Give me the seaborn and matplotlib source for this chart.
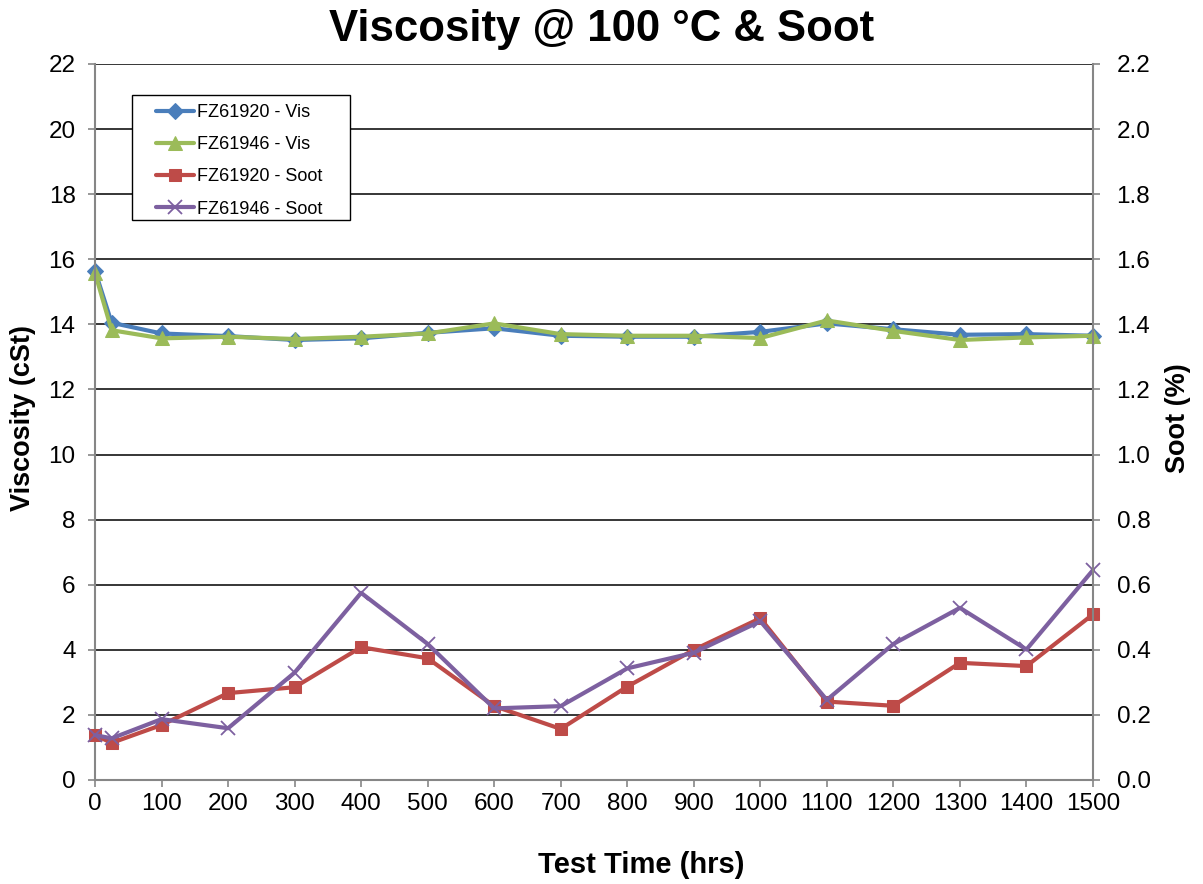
import matplotlib
matplotlib.use("Agg")
import matplotlib.pyplot as plt
import seaborn as sns
from matplotlib.patches import Rectangle
from matplotlib.ticker import MultipleLocator, FormatStrFormatter

hours = [0, 25, 100, 200, 300, 400, 500, 600, 700, 800, 900, 1000, 1100, 1200, 1300, 1400, 1500]
vis_fz61920 = [15.65, 14.05, 13.72, 13.64, 13.52, 13.57, 13.74, 13.88, 13.65, 13.62, 13.62, 13.77, 14.03, 13.85, 13.68, 13.70, 13.65]
vis_fz61946 = [15.58, 13.82, 13.57, 13.62, 13.55, 13.62, 13.72, 14.03, 13.70, 13.65, 13.65, 13.58, 14.12, 13.80, 13.52, 13.60, 13.65]
soot_fz61920 = [0.138, 0.114, 0.169, 0.267, 0.285, 0.408, 0.374, 0.227, 0.157, 0.287, 0.400, 0.497, 0.241, 0.228, 0.360, 0.350, 0.509]
soot_fz61946 = [0.138, 0.128, 0.187, 0.159, 0.330, 0.575, 0.418, 0.220, 0.227, 0.343, 0.391, 0.488, 0.246, 0.418, 0.529, 0.401, 0.645]

sns.set_theme(style="white")
plt.rcParams['font.family'] = ['Liberation Sans', 'DejaVu Sans']
plt.rcParams['text.color'] = 'black'
plt.rcParams['axes.labelcolor'] = 'black'

fig = plt.figure(figsize=(12.03, 8.84), dpi=100)
ax = fig.add_axes([95/1203, 1-780/884, (1093-95)/1203, (780-64)/884])
ax2 = ax.twinx()

lw = 3.0
sns.lineplot(x=hours, y=vis_fz61920, ax=ax, color="#4A7EBB", marker="D", markersize=8,
             markeredgecolor="#4A7EBB", linewidth=lw, label="FZ61920 - Vis", legend=False)
sns.lineplot(x=hours, y=vis_fz61946, ax=ax, color="#9BBB59", marker="^", markersize=10,
             markeredgecolor="#9BBB59", linewidth=lw, label="FZ61946 - Vis", legend=False)
sns.lineplot(x=hours, y=soot_fz61920, ax=ax2, color="#BE4B48", marker="s", markersize=9,
             markeredgecolor="#BE4B48", linewidth=lw, label="FZ61920 - Soot", legend=False)
sns.lineplot(x=hours, y=soot_fz61946, ax=ax2, color="#7D60A0", marker="x", markersize=10,
             markeredgewidth=1.3, markeredgecolor="#7D60A0", linewidth=lw, label="FZ61946 - Soot", legend=False)

for a in (ax, ax2):
    for ln in a.lines:
        ln.set_clip_on(False)

ax.set_xlim(0, 1500)
ax.set_ylim(0, 22)
ax2.set_ylim(0, 2.2)
ax.xaxis.set_major_locator(MultipleLocator(100))
ax.yaxis.set_major_locator(MultipleLocator(2))
ax2.yaxis.set_major_locator(MultipleLocator(0.2))
ax2.yaxis.set_major_formatter(FormatStrFormatter("%.1f"))

ax.grid(axis="y", color="black", linewidth=1.1)
ax.grid(axis="x", visible=False)
ax2.grid(False)
ax.set_axisbelow(True)

for a in (ax, ax2):
    for s in a.spines.values():
        s.set_visible(False)
ax.spines["left"].set_visible(True)
ax.spines["bottom"].set_visible(True)
ax2.spines["right"].set_visible(True)
for s in (ax.spines["left"], ax.spines["bottom"], ax2.spines["right"]):
    s.set_color("#868686")
    s.set_linewidth(1.5)

ax.tick_params(axis="x", direction="out", length=5, width=1.2, color="#868686",
               labelsize=17.5, labelcolor="black", bottom=True, pad=4)
ax.tick_params(axis="y", direction="out", length=5, width=1.2, color="#868686",
               labelsize=17.5, labelcolor="black", left=True, pad=9)
ax2.tick_params(axis="y", direction="out", length=5, width=1.2, color="#868686",
                labelsize=17.5, labelcolor="black", right=True, pad=12)

ax.set_xlabel("Test Time (hrs)", fontsize=21, fontweight="bold")
ax.set_ylabel("Viscosity (cSt)", fontsize=19.5, fontweight="bold")
ax2.set_ylabel("Soot (%)", fontsize=19.5, fontweight="bold")
ax.xaxis.set_label_coords(0.547, -0.099)
ax.yaxis.set_label_coords(-0.059, 0.505)
ax2.yaxis.set_label_coords(1.0721, 0.505)
fig.suptitle("Viscosity @ 100 °C & Soot", fontsize=31.5, fontweight="bold", y=1-29/884, va="center",
             color="black")

# legend frame (Excel-style box with indented entries)
frame = Rectangle((0.0371, 0.7821), 0.2184, 0.1746, transform=ax2.transAxes,
                  facecolor="white", edgecolor="black", linewidth=1.0, zorder=4)
ax2.add_patch(frame)

h1, l1 = ax.get_legend_handles_labels()
h2, l2 = ax2.get_legend_handles_labels()
leg = ax2.legend(h1 + h2, l1 + l2, loc="upper left", bbox_to_anchor=(0.0611, 0.944),
                 fontsize=13, frameon=False, borderpad=0, labelspacing=0.84,
                 handlelength=2.1, handletextpad=0.17, borderaxespad=0)
leg.set_zorder(5)
for t in leg.get_texts():
    t.set_color("black")

fig.savefig("out.png", dpi=100, facecolor="white")
